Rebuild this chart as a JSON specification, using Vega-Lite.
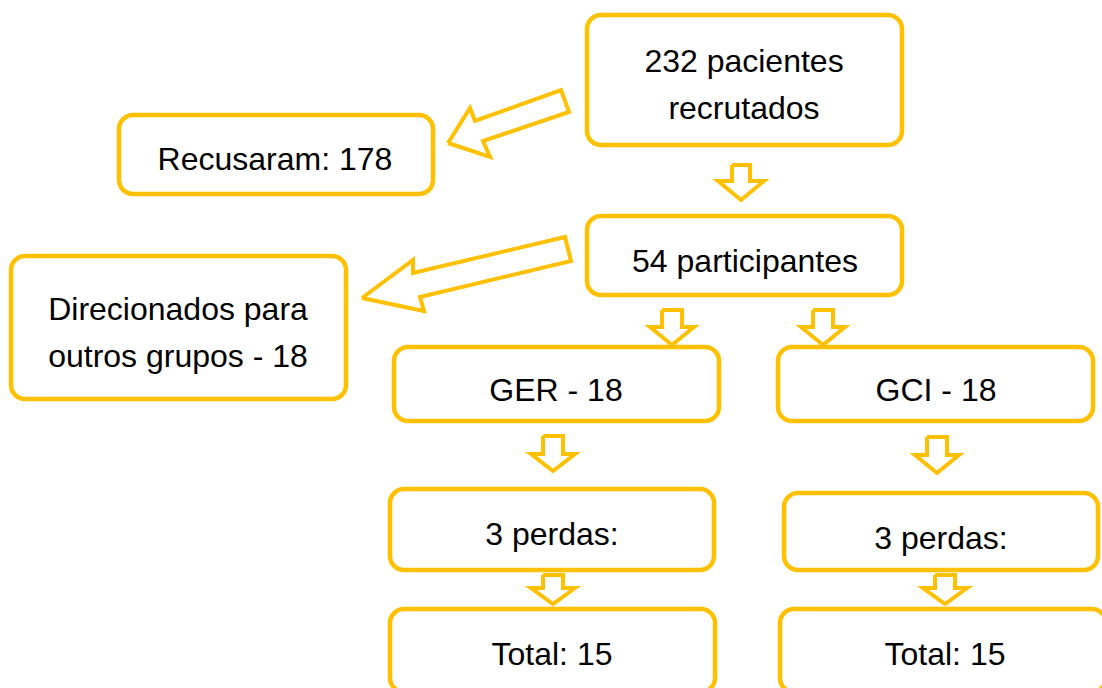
{
  "$schema": "https://vega.github.io/schema/vega-lite/v6.json",
  "width": 1102,
  "height": 688,
  "padding": 0,
  "autosize": {"type": "none"},
  "background": "white",
  "config": {"view": {"stroke": null}},
  "datasets": {
    "boxes": [
      {"box": "recrutados", "x1": 587, "x2": 902, "y1": 15, "y2": 145},
      {"box": "recusaram", "x1": 119, "x2": 433, "y1": 115, "y2": 194},
      {"box": "participantes", "x1": 587, "x2": 902, "y1": 216, "y2": 295},
      {"box": "direcionados", "x1": 11, "x2": 346, "y1": 256, "y2": 399},
      {"box": "GER", "x1": 394, "x2": 719, "y1": 347, "y2": 421},
      {"box": "GCI", "x1": 778, "x2": 1093, "y1": 347, "y2": 421},
      {"box": "perdasGER", "x1": 390, "x2": 714, "y1": 489, "y2": 570},
      {"box": "perdasGCI", "x1": 784, "x2": 1098, "y1": 493, "y2": 570},
      {"box": "totalGER", "x1": 390, "x2": 715, "y1": 609, "y2": 692},
      {"box": "totalGCI", "x1": 780, "x2": 1106, "y1": 609, "y2": 692}
    ],
    "arrows": [
      {"arrow": "d1", "o": 0, "x": 448, "y": 143},
      {"arrow": "d1", "o": 1, "x": 470, "y": 108},
      {"arrow": "d1", "o": 2, "x": 475, "y": 121},
      {"arrow": "d1", "o": 3, "x": 561, "y": 90},
      {"arrow": "d1", "o": 4, "x": 569, "y": 112},
      {"arrow": "d1", "o": 5, "x": 483, "y": 141},
      {"arrow": "d1", "o": 6, "x": 490, "y": 157},
      {"arrow": "d1", "o": 7, "x": 448, "y": 143},
      {"arrow": "d2", "o": 0, "x": 362, "y": 298},
      {"arrow": "d2", "o": 1, "x": 413, "y": 260},
      {"arrow": "d2", "o": 2, "x": 413, "y": 273},
      {"arrow": "d2", "o": 3, "x": 565, "y": 237},
      {"arrow": "d2", "o": 4, "x": 571, "y": 261},
      {"arrow": "d2", "o": 5, "x": 420, "y": 297},
      {"arrow": "d2", "o": 6, "x": 424, "y": 311},
      {"arrow": "d2", "o": 7, "x": 362, "y": 298},
      {"arrow": "a", "o": 0, "x": 732, "y": 165},
      {"arrow": "a", "o": 1, "x": 750, "y": 165},
      {"arrow": "a", "o": 2, "x": 750, "y": 181},
      {"arrow": "a", "o": 3, "x": 764, "y": 181},
      {"arrow": "a", "o": 4, "x": 741, "y": 200},
      {"arrow": "a", "o": 5, "x": 718, "y": 181},
      {"arrow": "a", "o": 6, "x": 732, "y": 181},
      {"arrow": "a", "o": 7, "x": 732, "y": 165},
      {"arrow": "b", "o": 0, "x": 662, "y": 310},
      {"arrow": "b", "o": 1, "x": 682, "y": 310},
      {"arrow": "b", "o": 2, "x": 682, "y": 327},
      {"arrow": "b", "o": 3, "x": 694, "y": 327},
      {"arrow": "b", "o": 4, "x": 672, "y": 345},
      {"arrow": "b", "o": 5, "x": 650, "y": 327},
      {"arrow": "b", "o": 6, "x": 662, "y": 327},
      {"arrow": "b", "o": 7, "x": 662, "y": 310},
      {"arrow": "c", "o": 0, "x": 813, "y": 310},
      {"arrow": "c", "o": 1, "x": 833, "y": 310},
      {"arrow": "c", "o": 2, "x": 833, "y": 327},
      {"arrow": "c", "o": 3, "x": 845, "y": 327},
      {"arrow": "c", "o": 4, "x": 823, "y": 345},
      {"arrow": "c", "o": 5, "x": 801, "y": 327},
      {"arrow": "c", "o": 6, "x": 813, "y": 327},
      {"arrow": "c", "o": 7, "x": 813, "y": 310},
      {"arrow": "d", "o": 0, "x": 543, "y": 436},
      {"arrow": "d", "o": 1, "x": 563, "y": 436},
      {"arrow": "d", "o": 2, "x": 563, "y": 454},
      {"arrow": "d", "o": 3, "x": 575, "y": 454},
      {"arrow": "d", "o": 4, "x": 553, "y": 471},
      {"arrow": "d", "o": 5, "x": 531, "y": 454},
      {"arrow": "d", "o": 6, "x": 543, "y": 454},
      {"arrow": "d", "o": 7, "x": 543, "y": 436},
      {"arrow": "e", "o": 0, "x": 927, "y": 437},
      {"arrow": "e", "o": 1, "x": 947, "y": 437},
      {"arrow": "e", "o": 2, "x": 947, "y": 455},
      {"arrow": "e", "o": 3, "x": 959, "y": 455},
      {"arrow": "e", "o": 4, "x": 937, "y": 473},
      {"arrow": "e", "o": 5, "x": 915, "y": 455},
      {"arrow": "e", "o": 6, "x": 927, "y": 455},
      {"arrow": "e", "o": 7, "x": 927, "y": 437},
      {"arrow": "f", "o": 0, "x": 543, "y": 575},
      {"arrow": "f", "o": 1, "x": 563, "y": 575},
      {"arrow": "f", "o": 2, "x": 563, "y": 588},
      {"arrow": "f", "o": 3, "x": 575, "y": 588},
      {"arrow": "f", "o": 4, "x": 553, "y": 604},
      {"arrow": "f", "o": 5, "x": 531, "y": 588},
      {"arrow": "f", "o": 6, "x": 543, "y": 588},
      {"arrow": "f", "o": 7, "x": 543, "y": 575},
      {"arrow": "g", "o": 0, "x": 935, "y": 575},
      {"arrow": "g", "o": 1, "x": 955, "y": 575},
      {"arrow": "g", "o": 2, "x": 955, "y": 588},
      {"arrow": "g", "o": 3, "x": 967, "y": 588},
      {"arrow": "g", "o": 4, "x": 945, "y": 604},
      {"arrow": "g", "o": 5, "x": 923, "y": 588},
      {"arrow": "g", "o": 6, "x": 935, "y": 588},
      {"arrow": "g", "o": 7, "x": 935, "y": 575}
    ],
    "labels": [
      {"label": ["232 pacientes", "recrutados"], "x": 744, "y": 62},
      {"label": ["Recusaram: 178"], "x": 275, "y": 160},
      {"label": ["54 participantes"], "x": 745, "y": 262},
      {"label": ["Direcionados para", "outros grupos - 18"], "x": 178, "y": 310},
      {"label": ["GER - 18"], "x": 556, "y": 391},
      {"label": ["GCI - 18"], "x": 936, "y": 391},
      {"label": ["3 perdas:"], "x": 552, "y": 535},
      {"label": ["3 perdas:"], "x": 941, "y": 539},
      {"label": ["Total: 15"], "x": 552, "y": 655},
      {"label": ["Total: 15"], "x": 945, "y": 655}
    ]
  },
  "layer": [
    {
      "data": {"name": "boxes"},
      "mark": {"type": "rect", "fill": "white", "stroke": "#FFC000", "strokeWidth": 4.5, "cornerRadius": 14},
      "encoding": {
        "x": {"field": "x1", "type": "quantitative", "scale": {"domain": [0, 1102], "nice": false, "zero": false}, "axis": null},
        "x2": {"field": "x2"},
        "y": {"field": "y1", "type": "quantitative", "scale": {"domain": [0, 688], "reverse": true, "nice": false, "zero": false}, "axis": null},
        "y2": {"field": "y2"}
      }
    },
    {
      "data": {"name": "arrows"},
      "mark": {"type": "line", "stroke": "#FFC000", "strokeWidth": 4, "strokeJoin": "miter", "strokeMiterLimit": 10},
      "encoding": {
        "x": {"field": "x", "type": "quantitative", "scale": {"domain": [0, 1102], "nice": false, "zero": false}, "axis": null},
        "y": {"field": "y", "type": "quantitative", "scale": {"domain": [0, 688], "reverse": true, "nice": false, "zero": false}, "axis": null},
        "detail": {"field": "arrow"},
        "order": {"field": "o", "type": "quantitative"}
      }
    },
    {
      "data": {"name": "labels"},
      "mark": {"type": "text", "font": "Liberation Sans", "fontSize": 32, "color": "#000000", "align": "center", "baseline": "middle", "lineHeight": 47},
      "encoding": {
        "x": {"field": "x", "type": "quantitative", "scale": {"domain": [0, 1102], "nice": false, "zero": false}, "axis": null},
        "y": {"field": "y", "type": "quantitative", "scale": {"domain": [0, 688], "reverse": true, "nice": false, "zero": false}, "axis": null},
        "text": {"field": "label"}
      }
    }
  ]
}
